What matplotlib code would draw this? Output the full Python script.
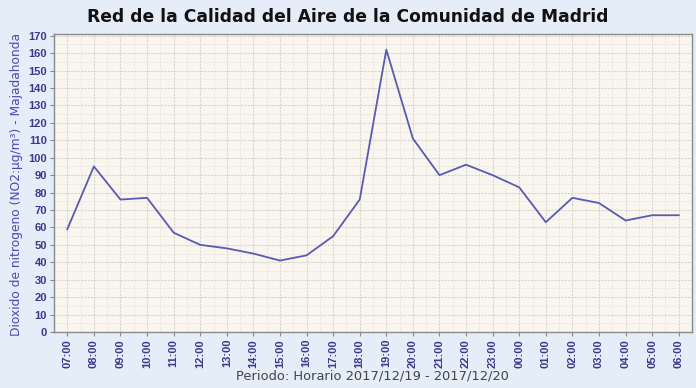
import matplotlib.pyplot as plt
from matplotlib.ticker import MultipleLocator

# ----------------------------
# Data
# ----------------------------

hours = ["07:00", "08:00", "09:00", "10:00", "11:00", "12:00", "13:00", "14:00",
         "15:00", "16:00", "17:00", "18:00", "19:00", "20:00", "21:00", "22:00",
         "23:00", "00:00", "01:00", "02:00", "03:00", "04:00", "05:00", "06:00"]
no2 = [59, 95, 76, 77, 57, 50, 48, 45, 41, 44, 55, 76,
       162, 111, 90, 96, 90, 83, 63, 77, 74, 64, 67, 67]

title = "Red de la Calidad del Aire de la Comunidad de Madrid"
y_label = "Dioxido de nitrogeno (NO2:µg/m³) - Majadahonda"
x_label = "Periodo: Horario 2017/12/19 - 2017/12/20"

# ----------------------------
# Plot
# ----------------------------

fig = plt.figure(figsize=(6.96, 3.88), dpi=100, facecolor="#e5edf9")
ax = fig.add_axes([0.0776, 0.1443, 0.9167, 0.7681])
ax.set_facecolor("#f8f6ee")

x = list(range(len(hours)))
ax.plot(x, no2, color="#5a5ab4", linewidth=1.3)

ax.set_xlim(-0.5, len(hours) - 0.5)
ax.set_ylim(0, 171)
ax.set_xticks(x)
ax.set_xticklabels(hours, rotation=90)
ax.yaxis.set_major_locator(MultipleLocator(10))
ax.yaxis.set_minor_locator(MultipleLocator(5))
ax.set_xticks([i + 0.5 for i in x[:-1]], minor=True)

ax.grid(which="major", color="#d8d6cc", linestyle=(0, (2, 1)), linewidth=0.8)
ax.grid(which="minor", color="#e8e6dc", linestyle=(0, (2, 1)), linewidth=0.6)
ax.set_axisbelow(True)

ax.tick_params(axis="both", which="major", labelcolor="#3a3a8a",
               color="#888888", length=3, width=0.8, pad=2)
ax.tick_params(axis="both", which="minor", length=0)
for lbl in ax.get_xticklabels() + ax.get_yticklabels():
    lbl.set_fontweight("bold")
    lbl.set_family("Liberation Sans")
    lbl.set_fontsize(8.0)

for s in ax.spines.values():
    s.set_color("#8a8a8a")
    s.set_linewidth(1.0)

fig.text(0.5, 0.955, title, ha="center", va="center", fontsize=12.3,
         fontweight="bold", color="#111111")
fig.text(0.024, 0.525, y_label, rotation=90, ha="center", va="center",
         fontsize=8.8, color="#4a4ab0")
fig.text(0.535, 0.03, x_label, ha="center", va="center",
         fontsize=9.4, color="#444444")

fig.savefig("out.png", dpi=100, facecolor=fig.get_facecolor())
